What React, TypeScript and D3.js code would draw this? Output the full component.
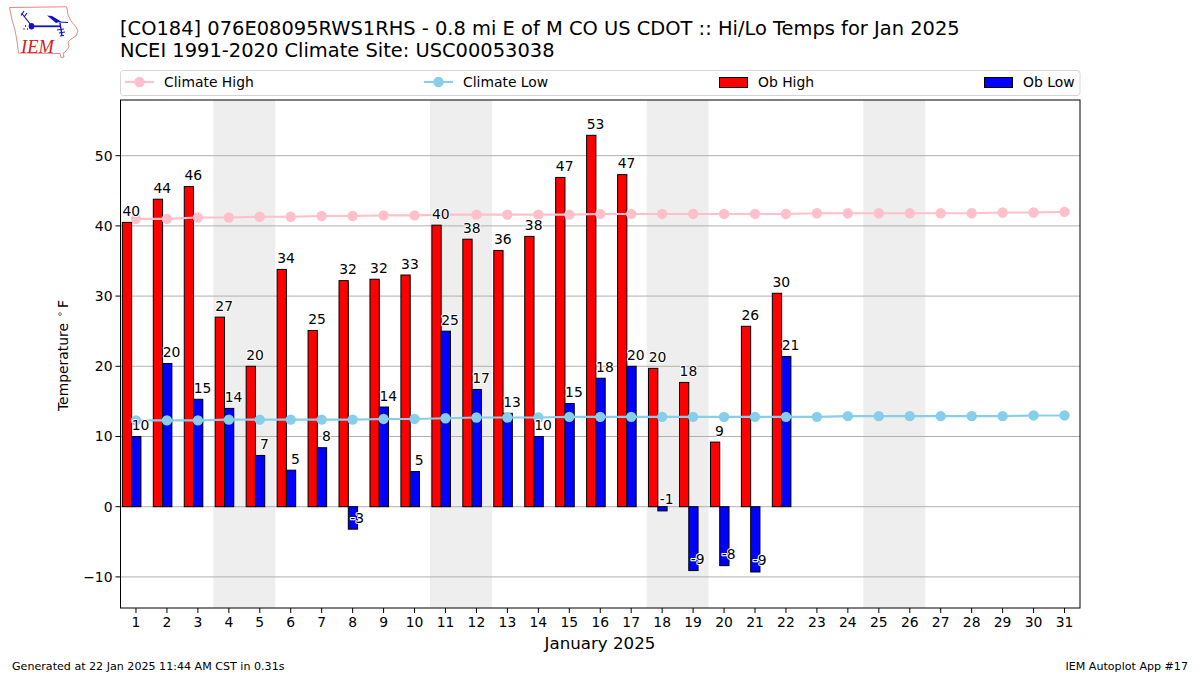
import React from "react";
import * as d3 from "d3";

const titleLines = ["[CO184] 076E08095RWS1RHS - 0.8 mi E of M CO US CDOT :: Hi/Lo Temps for Jan 2025", "NCEI 1991-2020 Climate Site: USC00053038"];
const days = d3.range(1, 32);
const obHigh = [40.5,43.8,45.6,27,20,33.8,25.1,32.2,32.4,33,40.1,38.1,36.5,38.5,46.9,52.9,47.3,19.7,17.7,9.2,25.7,30.4];
const obLow = [10,20.4,15.3,14,7.3,5.2,8.4,-3.2,14.2,5,25,16.7,13.3,10,14.7,18.3,20,-0.6,-9.1,-8.4,-9.3,21.4];
const highLabels = [40,44,46,27,20,34,25,32,32,33,40,38,36,38,47,53,47,20,18,9,26,30];
const lowLabels = [10,20,15,14,7,5,8,-3,14,5,25,17,13,10,15,18,20,-1,-9,-8,-9,21];
const climateHigh = [41,41,41.2,41.2,41.3,41.3,41.4,41.4,41.5,41.5,41.6,41.6,41.6,41.6,41.6,41.7,41.7,41.7,41.7,41.7,41.7,41.7,41.8,41.8,41.8,41.8,41.8,41.8,41.9,41.9,42];
const climateLow = [12.3,12.3,12.3,12.4,12.4,12.4,12.4,12.4,12.5,12.5,12.6,12.7,12.7,12.7,12.8,12.8,12.8,12.8,12.8,12.8,12.8,12.8,12.8,12.9,12.9,12.9,12.9,12.9,12.9,13,13];
const weekends = [[4,5],[11,12],[18,19],[25,26]];
const yTicks = [-10,0,10,20,30,40,50];

const FONT = "'DejaVu Sans', sans-serif";
const L = 120.5, R = 1080, T = 100, B = 608;
const x = d3.scaleLinear().domain([0.5, 31.5]).range([L, R]);
const y = d3.scaleLinear().domain([-14.43, 57.93]).range([B, T]);
const BW = 0.3;
const HIGH_OFFSET = -0.44;
const LOW_OFFSET = -0.14;
const lineGen = d3.line<number>().x((_, i) => x(days[i])).y(d => y(d));

function Label({ px, py, text }: { px: number; py: number; text: string }) {
  return (
    <text x={px} y={py} textAnchor="middle" dominantBaseline="central" fontSize={13.9} fill="#000"
      stroke="#fff" strokeWidth={2} paintOrder="stroke" strokeLinejoin="round">{text}</text>
  );
}

function Climate({ data, color }: { data: number[]; color: string }) {
  return (
    <g>
      <path d={lineGen(data) ?? ""} fill="none" stroke={color} strokeWidth={2.1} />
      {data.map((d, i) => <circle key={i} cx={x(days[i])} cy={y(d)} r={5.2} fill={color} />)}
    </g>
  );
}

function Logo() {
  return (
    <g>
      <path d="M9.5 7.5 L66.5 6.8 L67.5 11 L68 15 L71 21 L76 27 L78 31 L76 36 L71 39 L68 42 L69 47 L66 51 L63 53.5 L64 57 L61 57.5 L60 53.5 L18.5 53 L17 41 L15 30 L12 20 Z" fill="#fff" stroke="#e08a8a" strokeWidth={1} />
      <path d="M31.5 26.3 L60 26.3" stroke="#1010d0" strokeWidth={1.8} fill="none" />
      <path d="M60 23 L62 36" stroke="#1010d0" strokeWidth={1.4} fill="none" />
      <path d="M59 22 L68 22.5" stroke="#1010d0" strokeWidth={1.2} fill="none" />
      <path d="M31 25 L21.5 13 M21 15.5 L24 11 M24 17 L27 13" stroke="#1010d0" strokeWidth={1.2} fill="none" />
      <ellipse cx={31.5} cy={26.3} rx={2.8} ry={3.2} fill="#1010d0" />
      <path d="M47 15.5 L52 16 L61 21.5 L56 23 Z" fill="#1010d0" />
      <path d="M57 30 L64 29 M59 33 L65 32 M60 36 L64 35.5" stroke="#1010d0" strokeWidth={1.2} fill="none" />
      <path d="M23.5 29 L24.5 29 M27 29 L28 29 M25 26 L26 26" stroke="#1010d0" strokeWidth={1.6} fill="none" />
      <text x={21} y={52.5} fontFamily="'Liberation Serif', serif" fontStyle="italic" fontSize={18.5} fill="#d42020">IEM</text>
    </g>
  );
}

export default function App() {
  return (
    <svg width={1200} height={675} viewBox="0 0 1200 675" fontFamily={FONT}
      style={{ position: "absolute", left: 0, top: 0, background: "#fff" }}>
      <Logo />
      <text x={120} y={35} fontSize={19.46}>{titleLines[0]}</text>
      <text x={120} y={57} fontSize={19.46}>{titleLines[1]}</text>

      <rect x={120.5} y={70.5} width={959.5} height={25} rx={3} fill="#fff" stroke="#d5d5d5" />
      <g fontSize={13.9}>
        <line x1={125} x2={154} y1={82} y2={82} stroke="pink" strokeWidth={2.1} />
        <circle cx={139.5} cy={82} r={5.2} fill="pink" />
        <text x={164} y={87}>Climate High</text>
        <line x1={424} x2={453} y1={82} y2={82} stroke="skyblue" strokeWidth={2.1} />
        <circle cx={438.5} cy={82} r={5.2} fill="skyblue" />
        <text x={463} y={87}>Climate Low</text>
        <rect x={719.5} y={77.5} width={28} height={10} fill="red" stroke="#000" />
        <text x={758} y={87}>Ob High</text>
        <rect x={984.5} y={77.5} width={28} height={10} fill="blue" stroke="#000" />
        <text x={1023} y={87}>Ob Low</text>
      </g>

      {weekends.map(([a, b]) => (
        <rect key={a} x={x(a - 0.5)} y={T} width={x(b + 0.5) - x(a - 0.5)} height={B - T} fill="#eeeeee" />
      ))}
      {yTicks.map(t => <line key={t} x1={L} x2={R} y1={y(t)} y2={y(t)} stroke="#b0b0b0" strokeWidth={1} />)}

      {obHigh.map((v, i) => (
        <rect key={i} x={x(days[i] + HIGH_OFFSET)} width={x(BW) - x(0)} y={Math.min(y(v), y(0))} height={Math.abs(y(v) - y(0))} fill="red" stroke="#000" strokeWidth={1} />
      ))}
      {obLow.map((v, i) => (
        <rect key={i} x={x(days[i] + LOW_OFFSET)} width={x(BW) - x(0)} y={Math.min(y(v), y(0))} height={Math.abs(y(v) - y(0))} fill="blue" stroke="#000" strokeWidth={1} />
      ))}

      <Climate data={climateHigh} color="pink" />
      <Climate data={climateLow} color="skyblue" />

      {obHigh.map((v, i) => <Label key={i} px={x(days[i] - 0.15)} py={y(v) - 11.5} text={String(highLabels[i])} />)}
      {obLow.map((v, i) => <Label key={i} px={x(days[i] + 0.15)} py={y(v) - 11.5} text={String(lowLabels[i])} />)}

      <rect x={L} y={T} width={R - L} height={B - T} fill="none" stroke="#000" strokeWidth={1} />

      {yTicks.map(t => (
        <g key={t}>
          <line x1={L - 5} x2={L} y1={y(t)} y2={y(t)} stroke="#000" />
          <text x={L - 8} y={y(t)} textAnchor="end" dominantBaseline="central" fontSize={13.9}>{t < 0 ? `\u2212${-t}` : t}</text>
        </g>
      ))}
      {days.map(d => (
        <g key={d}>
          <line x1={x(d)} x2={x(d)} y1={B} y2={B + 5} stroke="#000" />
          <text x={x(d)} y={B + 19} textAnchor="middle" fontSize={13.9}>{d}</text>
        </g>
      ))}
      <text x={600} y={649} textAnchor="middle" fontSize={16.67}>January 2025</text>
      <text transform="translate(68,411) rotate(-90)" fontSize={13.9}>
        Temperature<tspan fontSize={9.7} dx={6} dy={-5}>{"\u2218"}</tspan><tspan dx={3} dy={5}>F</tspan>
      </text>
      <text x={12} y={670} fontSize={11.1}>Generated at 22 Jan 2025 11:44 AM CST in 0.31s</text>
      <text x={1188} y={670} textAnchor="end" fontSize={11.1}>IEM Autoplot App #17</text>
    </svg>
  );
}
